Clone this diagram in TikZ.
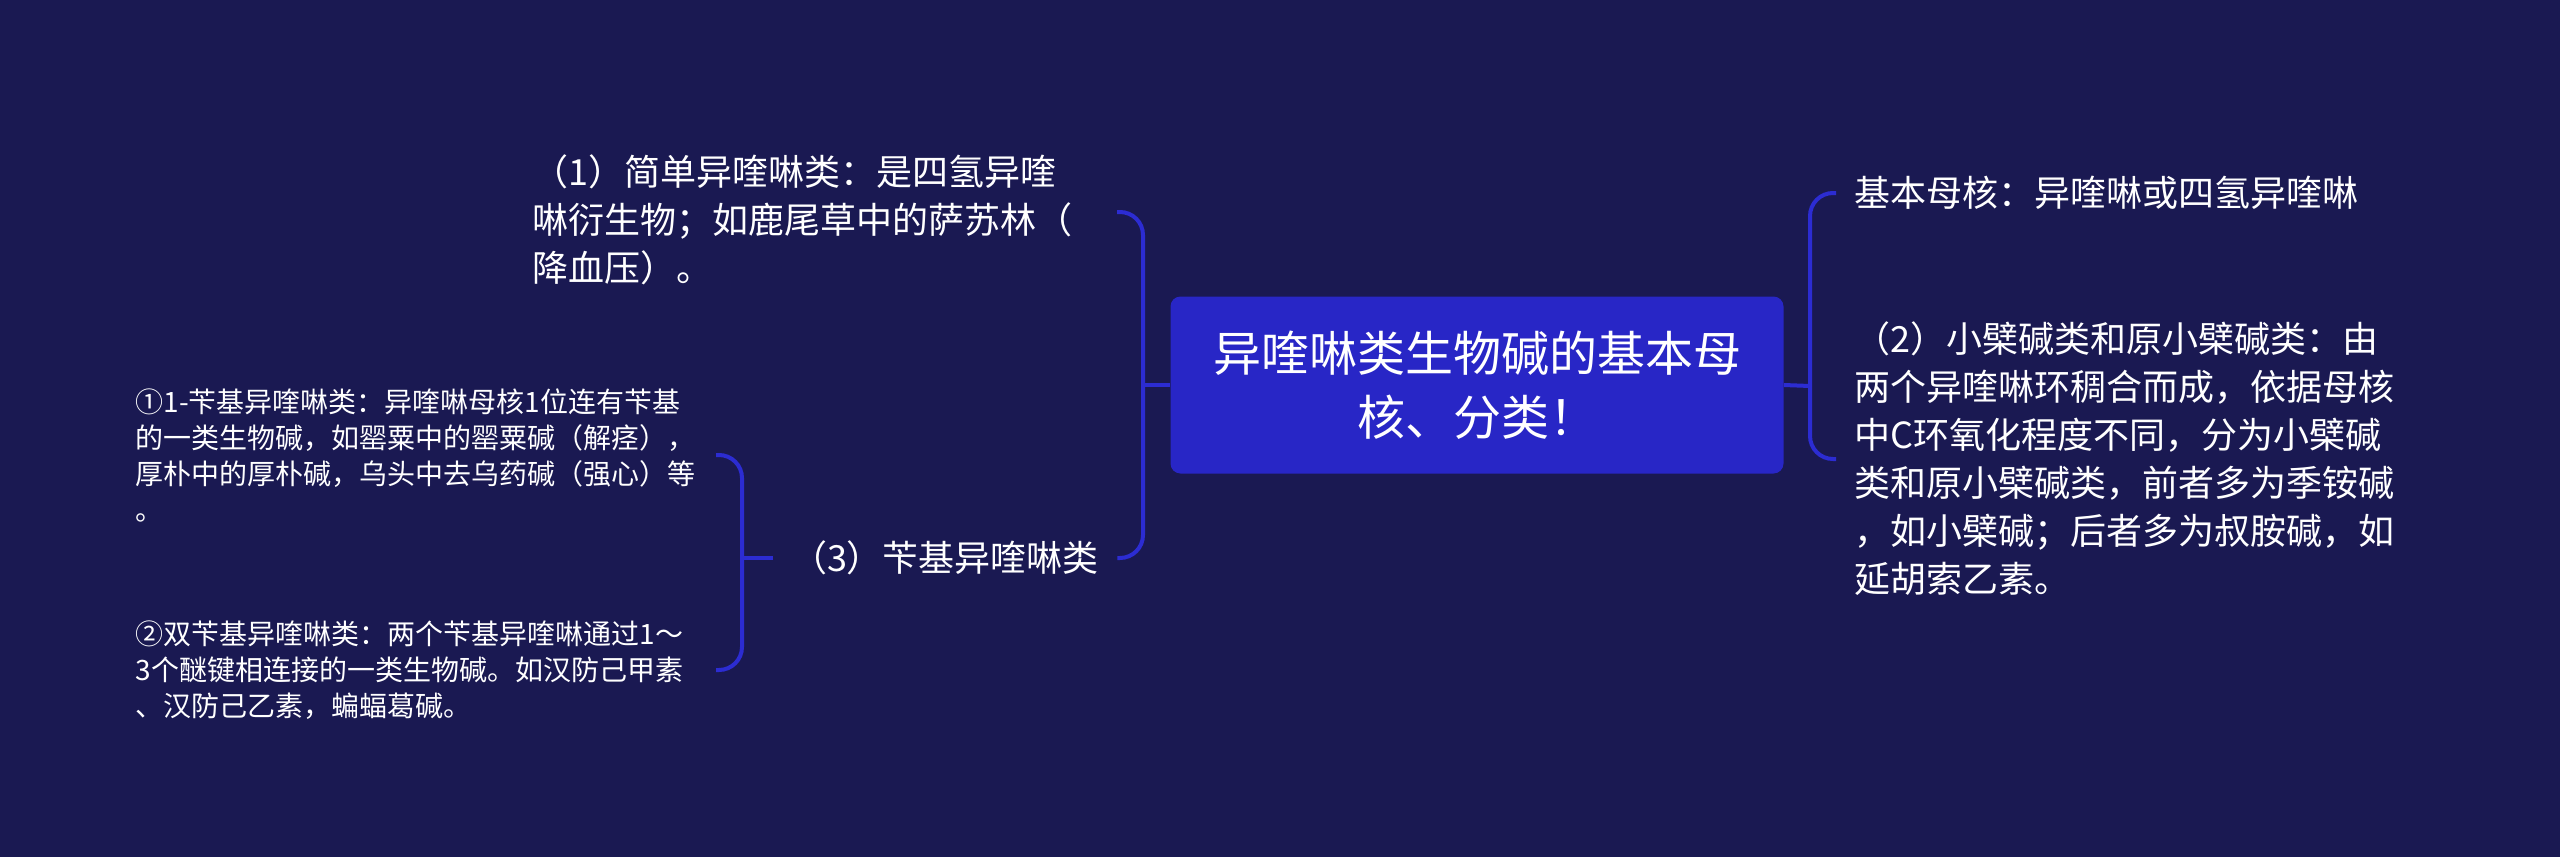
\documentclass[tikz,border=0pt]{standalone}
\usepackage{fontspec}
\setmainfont{Noto Sans CJK SC}

\definecolor{bgnavy}{RGB}{26,25,82}
\definecolor{rootblue}{RGB}{40,38,198}
\definecolor{linkblue}{RGB}{44,44,210}

\begin{document}
\begin{tikzpicture}[x=0.5pt,y=-0.5pt,
  root/.style={fill=rootblue,text=white,rounded corners=5pt,minimum width=306.5pt,
    minimum height=88.5pt,align=center,font=\fontsize{24pt}{32pt}\selectfont},
  topic/.style={text=white,align=left,inner xsep=9pt,inner ysep=0pt,
    font=\fontsize{18pt}{24pt}\selectfont},
  detail/.style={text=white,align=left,inner xsep=6pt,inner ysep=0pt,text width=284pt,
    font=\fontsize{14pt}{18pt}\selectfont},
  link/.style={draw=linkblue,line width=2pt,rounded corners=11.5pt}]
\fill[bgnavy] (0,0) rectangle (2560,857);
\useasboundingbox (0,0) rectangle (2560,857);

\node[root] at (1477,385) (root) {异喹啉类生物碱的基本母\\核、分类！};

\node[topic,text width=283pt,anchor=east] at (1117,220) (simple)
  {（1）简单异喹啉类：是四氢异喹\\啉衍生物；如鹿尾草中的萨苏林（\\降血压）。};
\node[topic] at (945,558) (benzyl) {（3）苄基异喹啉类};
\node[topic,anchor=west] at (1836,193) (core) {基本母核：异喹啉或四氢异喹啉};
\node[topic,anchor=west] at (1836,459) (berberine)
  {（2）小檗碱类和原小檗碱类：由\\两个异喹啉环稠合而成，依据母核\\中C环氧化程度不同，分为小檗碱\\类和原小檗碱类，前者多为季铵碱\\，如小檗碱；后者多为叔胺碱，如\\延胡索乙素。};

\node[detail,anchor=east] at (716,455) (mono)
  {①1-苄基异喹啉类：异喹啉母核1位连有苄基\\的一类生物碱，如罂粟中的罂粟碱（解痉），\\厚朴中的厚朴碱，乌头中去乌药碱（强心）等\\。};
\node[detail,anchor=east] at (716,670) (bis)
  {②双苄基异喹啉类：两个苄基异喹啉通过1～\\3个醚键相连接的一类生物碱。如汉防己甲素\\、汉防己乙素，蝙蝠葛碱。};

\coordinate (lj) at (1143,385);
\coordinate (rj) at (1810,386);
\coordinate (bj) at (742,558);

\draw[link] (root.west) -- (lj);
\draw[link] (lj) |- ([yshift=4pt]simple.east);
\draw[link] (lj) |- (benzyl.east);
\draw[link] (root.east) -- (rj);
\draw[link] (rj) |- (core.west);
\draw[link] (rj) |- (berberine.west);
\draw[link] (benzyl.west) -- (bj);
\draw[link] (bj) |- (mono.east);
\draw[link] (bj) |- (bis.east);
\end{tikzpicture}
\end{document}
